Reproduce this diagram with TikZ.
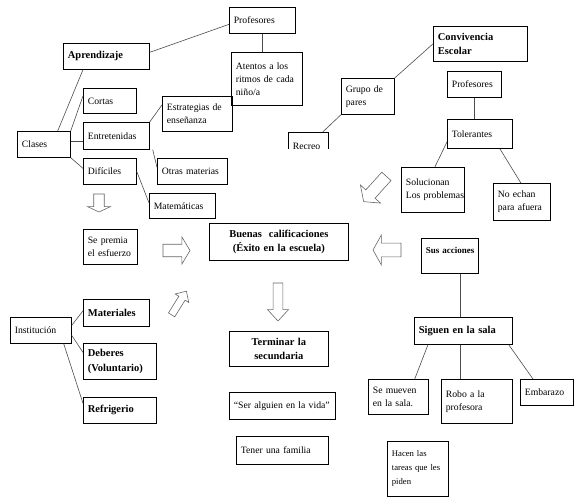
\documentclass[tikz,border=0pt]{standalone}
\usepackage{fontspec}
\setmainfont{Liberation Serif}
\hyphenpenalty=10000
\exhyphenpenalty=10000
\begin{document}
\begin{tikzpicture}[x=1pt, y=-1pt,
        box/.style = {draw, line width=0.7pt, anchor=north west, align=left,
                      inner xsep=4.5pt, inner ysep=2pt, font=\fontsize{9.7}{13}\selectfont},
        bbox/.style = {box, font=\fontsize{10.5}{14.5}\selectfont\bfseries},
        link/.style = {draw=black!70, line width=0.6pt},
        hollow/.pic = {\draw[black!60, line width=0.6pt] (-0.5,-0.23) -- (0.2,-0.23) -- (0.2,-0.5)
                       -- (0.5,0) -- (0.2,0.5) -- (0.2,0.23) -- (-0.5,0.23) -- cycle;}]
    \useasboundingbox (0,0) rectangle (580,500);

    % Aprendizaje
    \node[box, text width=57pt, minimum height=26pt] (profA) at (229,7) {Profesores};
    \node[bbox, text width=77pt, minimum height=26pt] (aprend) at (63,43) {Aprendizaje};
    \node[box, text width=62pt, minimum height=53pt] (atentos) at (231,52) {Atentos a los\\ritmos de cada\\niño/a};
    \node[box, text width=44pt, minimum height=25pt] (cortas) at (83,88) {Cortas};
    \node[box, text width=61pt, minimum height=35pt] (estrat) at (162,96) {Estrategias de\\enseñanza};
    \node[box, text width=44pt, minimum height=26pt] (clases) at (17,131) {Clases};
    \node[box, text width=57pt, minimum height=27pt] (entret) at (83,122) {Entretenidas};
    \node[box, text width=61pt, minimum height=26pt] (otras) at (157,158) {Otras materias};
    \node[box, text width=44pt, minimum height=26pt] (dificil) at (83,158) {Difíciles};
    \node[box, text width=57pt, minimum height=25pt] (matem) at (149,193) {Matemáticas};

    \draw[link] ([yshift=4pt]aprend.east) -- ([yshift=-4pt]profA.west);
    \draw[link] (profA.south) -- (profA.south |- atentos.north);
    \draw[link] ([xshift=20pt]aprend.south west) -- ([xshift=-13pt]clases.north east);
    \draw[link] (clases.north east) -- ([yshift=5pt]cortas.west);
    \draw[link] ([yshift=3pt]clases.east) -- ([yshift=3pt]clases.east -| entret.west);
    \draw[link] (clases.south east) -- ([yshift=3pt]dificil.west);
    \draw[link] (entret.north east) -- ([yshift=9pt]estrat.west);
    \draw[link] ([xshift=3pt]entret.south east) -- ([yshift=4pt]otras.west);
    \draw[link] (dificil.east) -- ([yshift=3pt]matem.west);

    % Convivencia escolar
    \node[bbox, text width=85pt, minimum height=35pt] (convive) at (433,26) {Convivencia\\Escolar};
    \node[box, text width=44pt, minimum height=36pt] (grupo) at (341,78) {Grupo de\\pares};
    \begin{scope}
        \clip (284,125) rectangle (336,148);
        \node[box, text width=31pt, minimum height=28pt] (recreo) at (288,132) {Recreo};
    \end{scope}
    \node[box, text width=45pt, minimum height=26pt] (profB) at (447,71) {Profesores};
    \node[box, text width=56pt, minimum height=29pt] (toler) at (447,119) {Tolerantes};
    \node[box, text width=54pt, minimum height=45pt] (soluc) at (401,167) {Solucionan\\Los~problemas};
    \node[box, text width=48pt, minimum height=37pt] (noechan) at (493,183) {No echan\\para afuera};

    \draw[link] (convive.west) -- (grupo.north east);
    \draw[link] (grupo.south west) -- ([xshift=-6pt]recreo.north east);
    \draw[link] (profB.south) -- (profB.south |- toler.north);
    \draw[link] ([yshift=-8pt]toler.west) -- ([xshift=2pt]soluc.north);
    \draw[link] ([xshift=20pt]toler.south) -- ([xshift=-1pt]noechan.north);

    % centro
    \node[box, text width=45pt, minimum height=35pt] (premia) at (83,229) {Se premia\\el esfuerzo};
    \node[bbox, align=center, text width=130pt, minimum height=37pt] (buenas) at (209,223) {Buenas\ \ calificaciones\\(Éxito en la escuela)};
    \node[bbox, align=center, text width=90pt, minimum height=35pt] (terminar) at (229,331) {Terminar la\\secundaria};
    \node[box, text width=97pt, minimum height=27pt] (seralg) at (229,392) {“Ser~alguien~en~la~vida”};
    \node[box, text width=83pt, minimum height=28pt] (tener) at (236,436) {Tener una familia};

    % Institucion
    \node[box, text width=52pt, minimum height=26pt] (instit) at (10,317) {Institución};
    \node[bbox, text width=57pt, minimum height=27pt] (mater) at (83,299) {Materiales};
    \node[bbox, text width=64pt, minimum height=36pt] (deberes) at (83,343) {Deberes\\(Voluntario)};
    \node[bbox, text width=64pt, minimum height=26pt] (refrig) at (83,397) {Refrigerio};

    \draw[link] ([yshift=5pt]instit.east) -- ([yshift=2pt]mater.west);
    \draw[link] ([yshift=-5pt]instit.east) -- ([yshift=9pt]deberes.west);
    \draw[link] ([xshift=-8pt]instit.south east) -- ([yshift=7pt]refrig.west);

    % Sus acciones
    \node[bbox, font=\fontsize{9}{13}\selectfont\bfseries, text depth=11pt,
          text width=48pt, minimum height=35pt] (sus) at (421,238) {Sus~acciones};
    \node[bbox, text width=89pt, minimum height=27pt] (siguen) at (414,317) {Siguen en la sala};
    \node[box, text width=51pt, minimum height=35pt] (semueven) at (368,379) {Se mueven\\en la sala.};
    \node[box, text width=62pt, minimum height=44pt] (robo) at (441,379) {Robo a la\\profesora};
    \node[box, text width=44pt, minimum height=26pt] (embarazo) at (520,379) {Embarazo};
    \node[box, font=\fontsize{8.7}{14}\selectfont, text width=52pt, minimum height=55pt] (hacen) at (387,441) {Hacen las\\tareas que les\\piden};

    \draw[link] ([xshift=-3pt]siguen.north) -- ([xshift=-3pt]siguen.north |- sus.south);
    \draw[link] ([xshift=14pt]siguen.south west) -- ([xshift=-14pt]semueven.north east);
    \draw[link] ([xshift=-3pt]siguen.south) -- ([xshift=-3pt]siguen.south |- robo.north);
    \draw[link] ([xshift=-4pt]siguen.south east) -- ([xshift=13pt]embarazo.north west);

    % flechas huecas
    \pic[rotate=-90, xscale=18, yscale=23] at (99,203) {hollow};
    \pic[xscale=27, yscale=27] at (176.5,250.5) {hollow};
    \pic[rotate=58, xscale=28, yscale=16] at (179,303) {hollow};
    \pic[rotate=-90, xscale=38, yscale=21] at (278,302) {hollow};
    \pic[rotate=180, xscale=28, yscale=30] at (387,250) {hollow};
    \pic[rotate=228, xscale=34, yscale=27] at (375,189) {hollow};
\end{tikzpicture}
\end{document}
